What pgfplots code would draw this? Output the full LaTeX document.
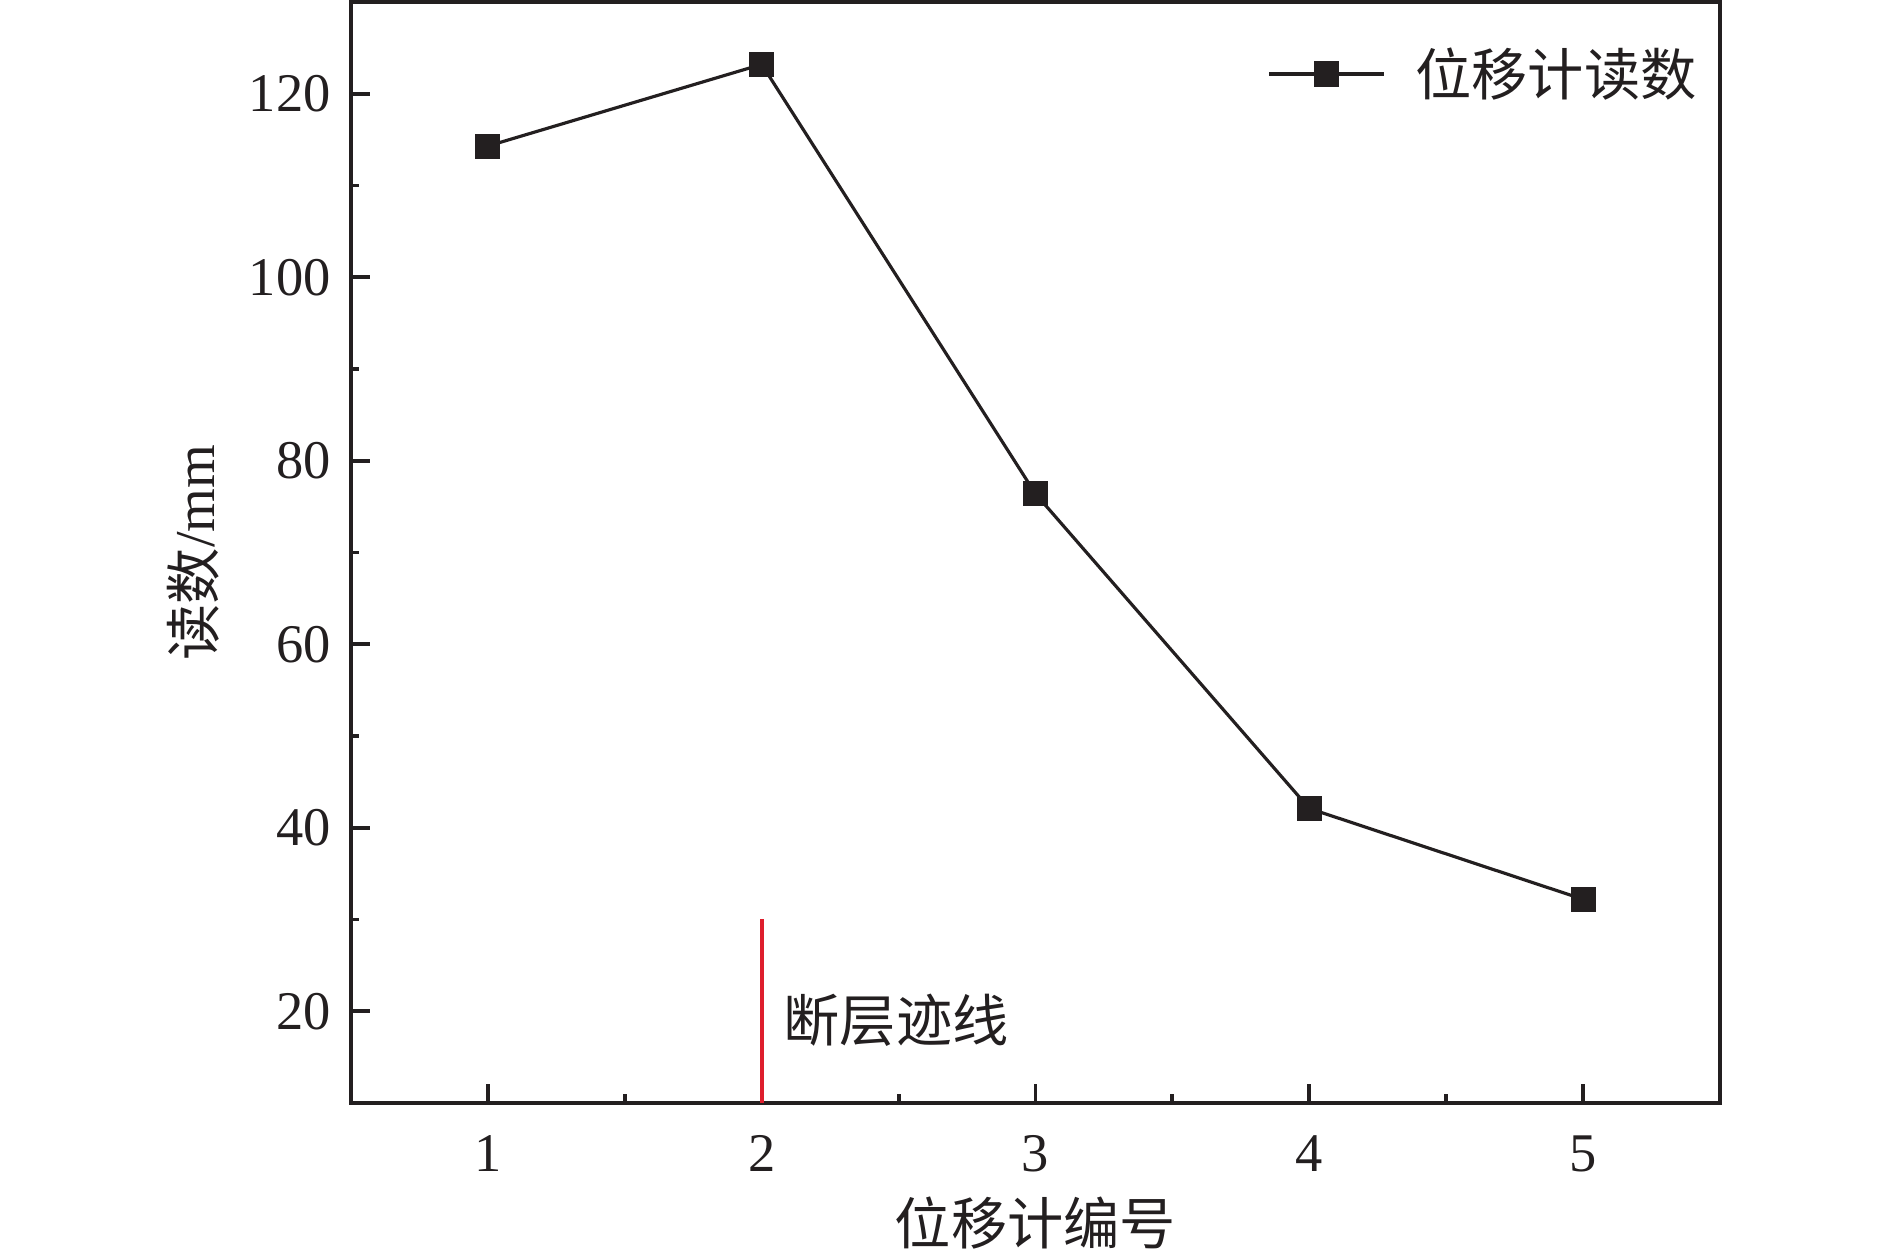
\documentclass[border=0pt]{standalone}
\usepackage{fontspec}
\setmainfont{Liberation Serif}
\newfontfamily\cjk{Noto Sans CJK SC}
\usepackage{pgfplots}
\pgfplotsset{compat=1.18}
\definecolor{ink}{RGB}{35,31,32}
\definecolor{fault}{RGB}{222,30,45}
\begin{document}
\begin{tikzpicture}
\useasboundingbox (-3.51cm,-1.50cm) rectangle (15.39cm,11.03cm);
\begin{axis}[
  at={(0,0)}, anchor=south west,
  scale only axis, width=13.69cm, height=11.01cm,
  xmin=0.5, xmax=5.5, ymin=10, ymax=130,
  axis line style={ink, line width=1.1pt},
  every tick/.style={ink, line width=1.1pt},
  xtick={1,2,3,4,5}, ytick={20,40,60,80,100,120},
  minor xtick={1.5,2.5,3.5,4.5},
  minor ytick={10,30,50,70,90,110,130},
  xtick pos=bottom, ytick pos=left,
  tick align=inside,
  major tick length=1.9mm, minor tick length=0.85mm,
  /pgf/number format/assume math mode=true,
  tick label style={font=\fontsize{15.5}{18}\selectfont, text=ink},
  xticklabel style={yshift=-2.0mm},
  yticklabel style={xshift=-0.8mm},
  xlabel={\cjk 位移计编号},
  ylabel={\cjk 读数\rmfamily/mm},
  label style={font=\fontsize{16}{19}\selectfont, text=ink},
  xlabel style={at={(axis description cs:0.5,-0.109)}, anchor=center},
  ylabel style={at={(axis description cs:-0.1154,0.5)}, anchor=center},
  legend style={at={(axis description cs:0.988,0.965)}, anchor=north east, draw=none, fill=none,
    font=\fontsize{16}{19}\selectfont\cjk, text=ink, inner sep=0pt, outer sep=0pt, column sep=2.2mm},
  legend cell align=left,
  legend image code/.code={\draw[#1, line width=1.1pt, mark repeat=2, mark phase=2] plot coordinates {(0cm,0cm) (0.575cm,0cm) (1.15cm,0cm)};},
  clip=false,
]
\addplot[ink, line width=0.9pt, mark=square*, mark size=1.2mm, mark options={fill=ink, draw=ink, line width=0.3pt}]
  coordinates {(1,114.3) (2,123.2) (3,76.4) (4,42.1) (5,32.2)};
\addlegendentry{位移计读数}
\addplot[fault, line width=1.1pt, forget plot] coordinates {(2,10) (2,30)};
\node[anchor=west, text=ink, font=\fontsize{16}{19}\selectfont\cjk] at (axis cs:2.035,19) {断层迹线};
\end{axis}
\end{tikzpicture}
\end{document}
